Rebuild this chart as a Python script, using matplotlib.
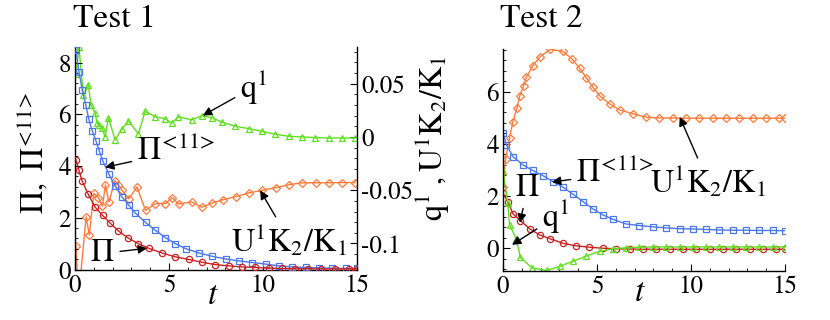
import matplotlib
matplotlib.use("Agg")
import matplotlib.pyplot as plt
from matplotlib.ticker import MultipleLocator
import numpy as np

plt.rcParams['font.family'] = ['STIXGeneral', 'DejaVu Serif']
plt.rcParams['mathtext.fontset'] = 'stix'

# ---------------- Test 1 data ----------------
t1_blue = [0.05, 0.21, 0.39, 0.57, 0.73, 0.91, 1.12, 1.30, 1.47, 1.79, 2.15, 2.50, 2.86, 3.21,
           3.75, 4.28, 4.81, 5.34, 5.88, 6.59, 7.30, 8.01, 8.72, 9.43, 10.14, 10.85, 11.56,
           12.27, 12.98, 13.69, 14.4, 15.0]
pi11_1 = [8.47, 7.65, 6.93, 6.37, 5.83, 5.37, 4.96, 4.57, 4.21, 3.70, 3.21, 2.80, 2.49, 2.18,
          1.82, 1.51, 1.23, 1.00, 0.81, 0.64, 0.51, 0.41, 0.33, 0.27, 0.21, 0.14, 0.10,
          0.08, 0.06, 0.05, 0.04, 0.04]

t1_red = [0.05, 0.21, 0.37, 0.69, 1.07, 1.47, 1.86, 2.31, 2.84, 3.37, 3.92, 4.62, 5.33, 6.04,
          6.75, 7.46, 8.17, 8.88, 9.59, 10.30, 11.0, 11.7, 12.4, 13.1, 13.85, 14.56, 15.0]
pi_1 = [4.24, 3.83, 3.44, 2.93, 2.41, 2.09, 1.80, 1.49, 1.21, 1.00, 0.82, 0.64, 0.49, 0.39,
        0.28, 0.19, 0.14, 0.10, 0.08, 0.05, 0.04, 0.03, 0.03, 0.02, 0.02, 0.02, 0.02]

t1_green = [0.05, 0.21, 0.45, 0.71, 0.85, 1.07, 1.18, 1.28, 1.45, 1.60, 1.78, 2.13, 2.49, 2.84,
            3.37, 3.73, 4.26, 4.79, 5.15, 5.5, 6.2, 6.75, 7.3, 7.8, 8.52, 9.23, 9.94, 10.65,
            11.36, 12.07, 12.78, 13.49, 14.2, 14.9]
q_1 = [0.059, 0.084, 0.039, 0.049, 0.030, 0.0225, 0.013, 0.011, 0.008, 0.0, 0.018, -0.0025,
       0.007, 0.015, 0.003, 0.024, 0.019, 0.017, 0.013, 0.019, 0.016, 0.020, 0.018, 0.014,
       0.010, 0.0078, 0.0053, 0.0025, 0.0006, 0.0, -0.0006, -0.001, -0.001, -0.001]

t1_orange = [0.05, 0.13, 0.3, 0.59, 0.76, 1.0, 1.24, 1.46, 1.62, 1.8, 2.12, 2.3, 2.5, 2.86, 3.3,
             3.75, 4.28, 4.81, 5.17, 5.52, 6.2, 6.75, 7.3, 7.85, 8.55, 9.25, 9.97, 10.7, 11.4,
             12.1, 12.8, 13.5, 14.2, 14.9]
u_1 = [-0.102, -0.13, -0.13, -0.075, -0.092, -0.053, -0.057, -0.065, -0.045, -0.061, -0.041,
       -0.045, -0.050, -0.058, -0.047, -0.069, -0.0625, -0.0625, -0.057, -0.063, -0.061, -0.066,
       -0.062, -0.059, -0.056, -0.0525, -0.050, -0.0475, -0.0447, -0.043, -0.043, -0.043,
       -0.0428, -0.0428]

# ---------------- Test 2 data ----------------
t2_orange = [0.0, 0.14, 0.35, 0.53, 0.74, 0.89, 1.10, 1.24, 1.59, 1.95, 2.51, 3.19, 3.68, 4.07,
             4.43, 4.78, 5.14, 5.67, 6.20, 6.91, 7.61, 8.32, 9.03, 9.74, 10.45, 11.16, 11.87,
             12.57, 13.28, 13.99, 14.7, 15.0]
u_2 = [2.34, 3.41, 4.24, 4.85, 5.36, 5.84, 6.22, 6.55, 6.99, 7.32, 7.62, 7.54, 7.24, 6.90, 6.53,
       6.17, 5.84, 5.53, 5.30, 5.15, 5.02, 4.99, 4.99, 4.98, 4.98, 4.98, 4.98, 4.98, 4.98,
       4.98, 4.98, 4.98]

t2_blue = [0.0, 0.18, 0.53, 1.06, 1.59, 2.13, 2.66, 3.19, 3.72, 4.25, 4.78, 5.31, 5.84, 6.55,
           7.26, 7.97, 8.68, 9.39, 10.09, 10.80, 11.51, 12.22, 12.93, 13.64, 14.34, 15.0]
pi11_2 = [4.43, 3.96, 3.51, 3.19, 2.98, 2.78, 2.55, 2.34, 2.07, 1.79, 1.51, 1.28, 1.11, 0.93,
          0.87, 0.82, 0.78, 0.75, 0.74, 0.72, 0.70, 0.69, 0.69, 0.68, 0.68, 0.67]

t2_red = [0.0, 0.25, 0.53, 0.92, 1.45, 1.95, 2.52, 3.19, 3.90, 4.60, 5.31, 6.02, 6.73, 7.44,
          8.15, 8.86, 9.57, 10.28, 10.99, 11.70, 12.41, 13.12, 13.83, 14.54, 15.0]
pi_2 = [2.11, 1.79, 1.32, 1.06, 0.73, 0.51, 0.36, 0.19, 0.09, 0.04, 0.0, -0.02, -0.03, -0.04,
        -0.04, -0.04, -0.04, -0.04, -0.04, -0.04, -0.04, -0.04, -0.04, -0.04, -0.04]

t2_green = [0.0, 0.25, 0.35, 0.71, 0.92, 1.54, 2.34, 3.05, 3.72, 4.43, 5.14, 5.84, 6.55, 7.26,
            7.97, 8.68, 9.39, 10.09, 10.80, 11.51, 12.22, 12.93, 13.64, 14.34, 15.0]
q_2 = [2.95, 1.75, 0.90, 0.35, -0.35, -0.75, -0.85, -0.68, -0.50, -0.30, -0.12, -0.02, 0.02,
       0.04, 0.05, 0.05, 0.05, 0.05, 0.05, 0.05, 0.05, 0.05, 0.05, 0.05, 0.05]

GREEN = '#5fe01f'
ORANGE = '#ff7a38'
BLUE = '#4a78ec'
RED = '#cc2020'

PI11 = r'$\Pi^{\!<\!11\!>}$'

fig = plt.figure(figsize=(8.3, 3.2), dpi=100)
ax1 = fig.add_axes([75/830, 1-269.5/320, 282/830, 222.5/320])
ax1r = ax1.twinx()
ax2 = fig.add_axes([503/830, 1-270.7/320, 282/830, 221.4/320])

mk = dict(lw=1.0, ms=4.5, mfc='none', mew=0.9)

def style(ax, right=False):
    ax.tick_params(direction='in', which='both', labelsize=18, pad=3)
    ax.tick_params(which='major', length=5, width=0.8)
    ax.tick_params(which='minor', length=2.5, width=0.6)
    ax.spines['top'].set_visible(False)
    if not right:
        ax.spines['right'].set_visible(False)
    for s in ax.spines.values():
        s.set_linewidth(1.0)

# Test 1
ax1.plot(t1_blue, pi11_1, '-s', color=BLUE, **mk, zorder=3)
ax1.plot(t1_red, pi_1, '-o', color=RED, **mk, zorder=3)
ax1r.plot(t1_green, q_1, '-^', color=GREEN, **mk)
ax1r.plot(t1_orange, u_1, '-D', color=ORANGE, lw=1.0, ms=3.8, mfc='none', mew=0.9)
ax1.set_xlim(0, 15)
ax1.set_ylim(0, 8.6)
ax1r.set_ylim(-0.1244, 0.0844)
ax1.set_xticks([0, 5, 10, 15])
ax1.xaxis.set_minor_locator(MultipleLocator(1))
ax1.set_yticks([0, 2, 4, 6, 8])
ax1.yaxis.set_minor_locator(MultipleLocator(0.4))
ax1r.set_yticks([-0.1, -0.05, 0, 0.05])
ax1r.set_yticklabels(['-0.1', '-0.05', '0', '0.05'])
ax1r.yaxis.set_minor_locator(MultipleLocator(0.01))
style(ax1)
style(ax1r, right=True)
ax1r.spines['left'].set_visible(False)
ax1r.spines['bottom'].set_visible(False)
ax1.set_zorder(ax1r.get_zorder() + 1)
ax1.patch.set_visible(False)

# Test 2
ax2.plot(t2_orange, u_2, '-D', color=ORANGE, lw=1.0, ms=3.8, mfc='none', mew=0.9)
ax2.plot(t2_blue, pi11_2, '-s', color=BLUE, **mk)
ax2.plot(t2_red, pi_2, '-o', color=RED, **mk)
ax2.plot(t2_green, q_2, '-^', color=GREEN, **mk)
ax2.set_xlim(0, 15)
ax2.set_ylim(-0.86, 7.62)
ax2.set_xticks([0, 5, 10, 15])
ax2.xaxis.set_minor_locator(MultipleLocator(1))
ax2.set_yticks([0, 2, 4, 6])
ax2.yaxis.set_minor_locator(MultipleLocator(0.4))
style(ax2)

# Titles and labels
fig.text(73/830, 1-19/320, 'Test 1', fontsize=24, ha='left', va='center')
fig.text(500/830, 1-19/320, 'Test 2', fontsize=24, ha='left', va='center')
fig.text(33/830, 1-153/320, r'$\Pi,\ \Pi^{\!<\!11\!>}$', fontsize=23, rotation=90,
         ha='center', va='center')
fig.text(432/830, 1-138/320, r'$\mathrm{q^1\ ,U^1K_2/K_1}$', fontsize=23, rotation=90,
         ha='center', va='center')
fig.text(213/830, 1-296/320, r'$t$', fontsize=24, ha='center', va='center')
fig.text(640/830, 1-293/320, r'$t$', fontsize=24, ha='center', va='center')

arr = dict(arrowstyle='-|>', color='black', lw=1.0, mutation_scale=13, shrinkA=2, shrinkB=0)
FS = 23

# Test 1 annotations (left-axis data coordinates)
ax1.annotate(r'$\mathrm{q^1}$', xy=(6.8, 5.95), xytext=(9.5, 7.05), fontsize=FS,
             ha='center', va='center', arrowprops=arr, zorder=5)
ax1.annotate(PI11, xy=(1.6, 3.95), xytext=(5.4, 4.55), fontsize=FS,
             ha='center', va='center', arrowprops=arr, zorder=5)
ax1.annotate(r'$\mathrm{U^1K_2/K_1}$', xy=(9.85, 3.06), xytext=(11.4, 1.13), fontsize=FS,
             ha='center', va='center', arrowprops=arr, zorder=5)
ax1.annotate(r'$\Pi$', xy=(3.83, 0.82), xytext=(1.45, 0.62), fontsize=FS,
             ha='center', va='center', arrowprops=arr, zorder=5)

# Test 2 annotations
ax2.annotate(r'$\mathrm{U^1K_2/K_1}$', xy=(9.4, 5.03), xytext=(10.9, 2.55), fontsize=FS,
             ha='center', va='center', arrowprops=arr)
ax2.annotate(PI11, xy=(2.6, 2.54), xytext=(6.0, 2.85), fontsize=FS,
             ha='center', va='center', arrowprops=arr)
ax2.annotate(r'$\Pi$', xy=(0.9, 0.97), xytext=(1.3, 2.3), fontsize=FS,
             ha='center', va='center', arrowprops=arr)
ax2.annotate(r'$\mathrm{q^1}$', xy=(0.48, 0.13), xytext=(2.8, 1.2), fontsize=FS,
             ha='center', va='center', arrowprops=arr)

fig.savefig('out.png', dpi=100)
